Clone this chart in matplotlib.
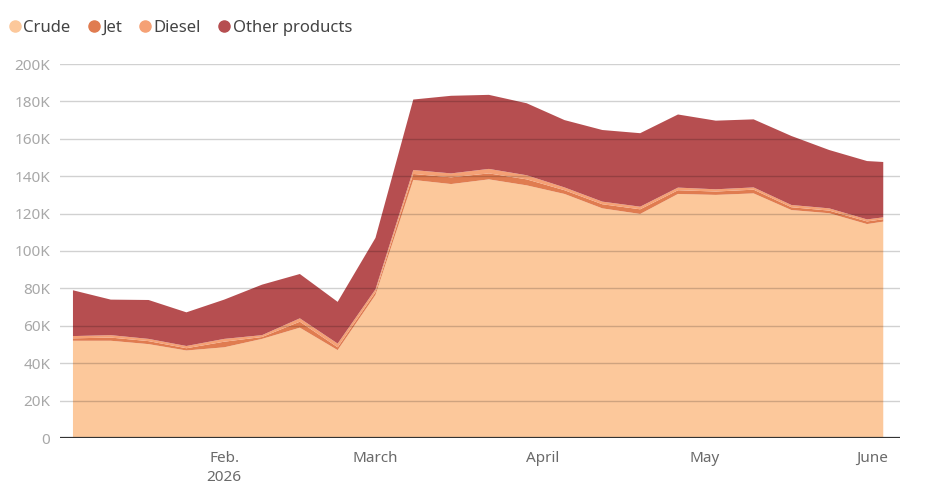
import matplotlib
matplotlib.use("Agg")
import matplotlib.pyplot as plt
from matplotlib.lines import Line2D
import numpy as np

plt.rcParams['font.family'] = ['Noto Sans', 'DejaVu Sans']

# weekly observations (thousand units), stacked: crude, jet, diesel, other
dates = np.array(['2026-01-04', '2026-01-11', '2026-01-18', '2026-01-25', '2026-02-01',
                  '2026-02-08', '2026-02-15', '2026-02-22', '2026-03-01', '2026-03-08',
                  '2026-03-15', '2026-03-22', '2026-03-29', '2026-04-05', '2026-04-12',
                  '2026-04-19', '2026-04-26', '2026-05-03', '2026-05-10', '2026-05-17',
                  '2026-05-24', '2026-05-31', '2026-06-03'], dtype='datetime64[D]')
crude = [52.0, 52.0, 50.2, 46.8, 48.5, 53.0, 59.0, 47.0, 76.5, 138.0, 135.8, 138.3,
         135.1, 130.5, 122.8, 119.8, 130.5, 130.0, 130.8, 121.9, 120.2, 114.4, 115.7]
jet = [1.3, 1.7, 1.6, 1.2, 3.0, 1.0, 3.2, 1.5, 1.5, 3.2, 3.6, 3.2,
       3.2, 2.0, 2.2, 2.5, 2.0, 1.8, 2.0, 1.5, 1.4, 1.4, 1.3]
diesel = [1.2, 1.3, 1.2, 1.2, 1.5, 1.0, 1.8, 2.0, 1.5, 2.1, 2.1, 2.4,
          2.2, 1.5, 1.4, 1.4, 1.4, 1.2, 1.2, 1.2, 1.2, 1.1, 1.0]
other = [24.5, 19.0, 20.8, 18.0, 21.0, 27.0, 23.7, 22.3, 27.5, 37.7, 41.5, 39.6,
         38.5, 36.0, 38.3, 39.3, 39.1, 36.7, 36.4, 36.9, 31.2, 31.2, 29.6]

labels = ['Crude', 'Jet', 'Diesel', 'Other products']
colors = ['#fcc89b', '#e07c50', '#f5a175', '#b64e50']

month_ticks = np.array(['2026-02-01', '2026-03-01', '2026-04-01', '2026-05-01', '2026-06-01'],
                       dtype='datetime64[D]')
month_labels = ['Feb.\n2026', 'March', 'April', 'May', 'June']
y_ticks = [0, 20, 40, 60, 80, 100, 120, 140, 160, 180, 200]

fig = plt.figure(figsize=(9.26, 4.96), dpi=100)
ax = fig.add_axes([60 / 926, 1 - 438 / 496, 840 / 926, 374 / 496])

x = (dates - dates[0]).astype(float)
ax.stackplot(x, crude, jet, diesel, other, colors=colors, linewidth=0, zorder=1)

for v in y_ticks[1:]:
    ax.axhline(v, color='black', alpha=0.18, lw=1, zorder=2)
ax.axhline(0, color='#333333', lw=1.6, zorder=3)

ax.set_xlim(-2.4, 153.1)
ax.set_ylim(0, 200)
ax.set_yticks(y_ticks)
ax.set_yticklabels(['0'] + [f'{v}K' for v in y_ticks[1:]])
ax.set_xticks((month_ticks - dates[0]).astype(float))
ax.set_xticklabels(month_labels, linespacing=1.45)
ax.tick_params(axis='y', length=0, pad=7, labelsize=11, labelcolor='#a8a8a8')
ax.tick_params(axis='x', length=0, pad=9, labelsize=11, labelcolor='#6a6a6a')
for s in ax.spines.values():
    s.set_visible(False)

handles = [Line2D([], [], marker='o', ls='', color=c, markersize=8) for c in colors]
fig.legend(handles, labels, loc='center left', bbox_to_anchor=(-0.011, 1 - 28 / 496),
           ncol=4, frameon=False, fontsize=12, handletextpad=-0.1, columnspacing=0.8,
           labelcolor='#444444', handlelength=1.2)

fig.savefig('out.png', dpi=100)
